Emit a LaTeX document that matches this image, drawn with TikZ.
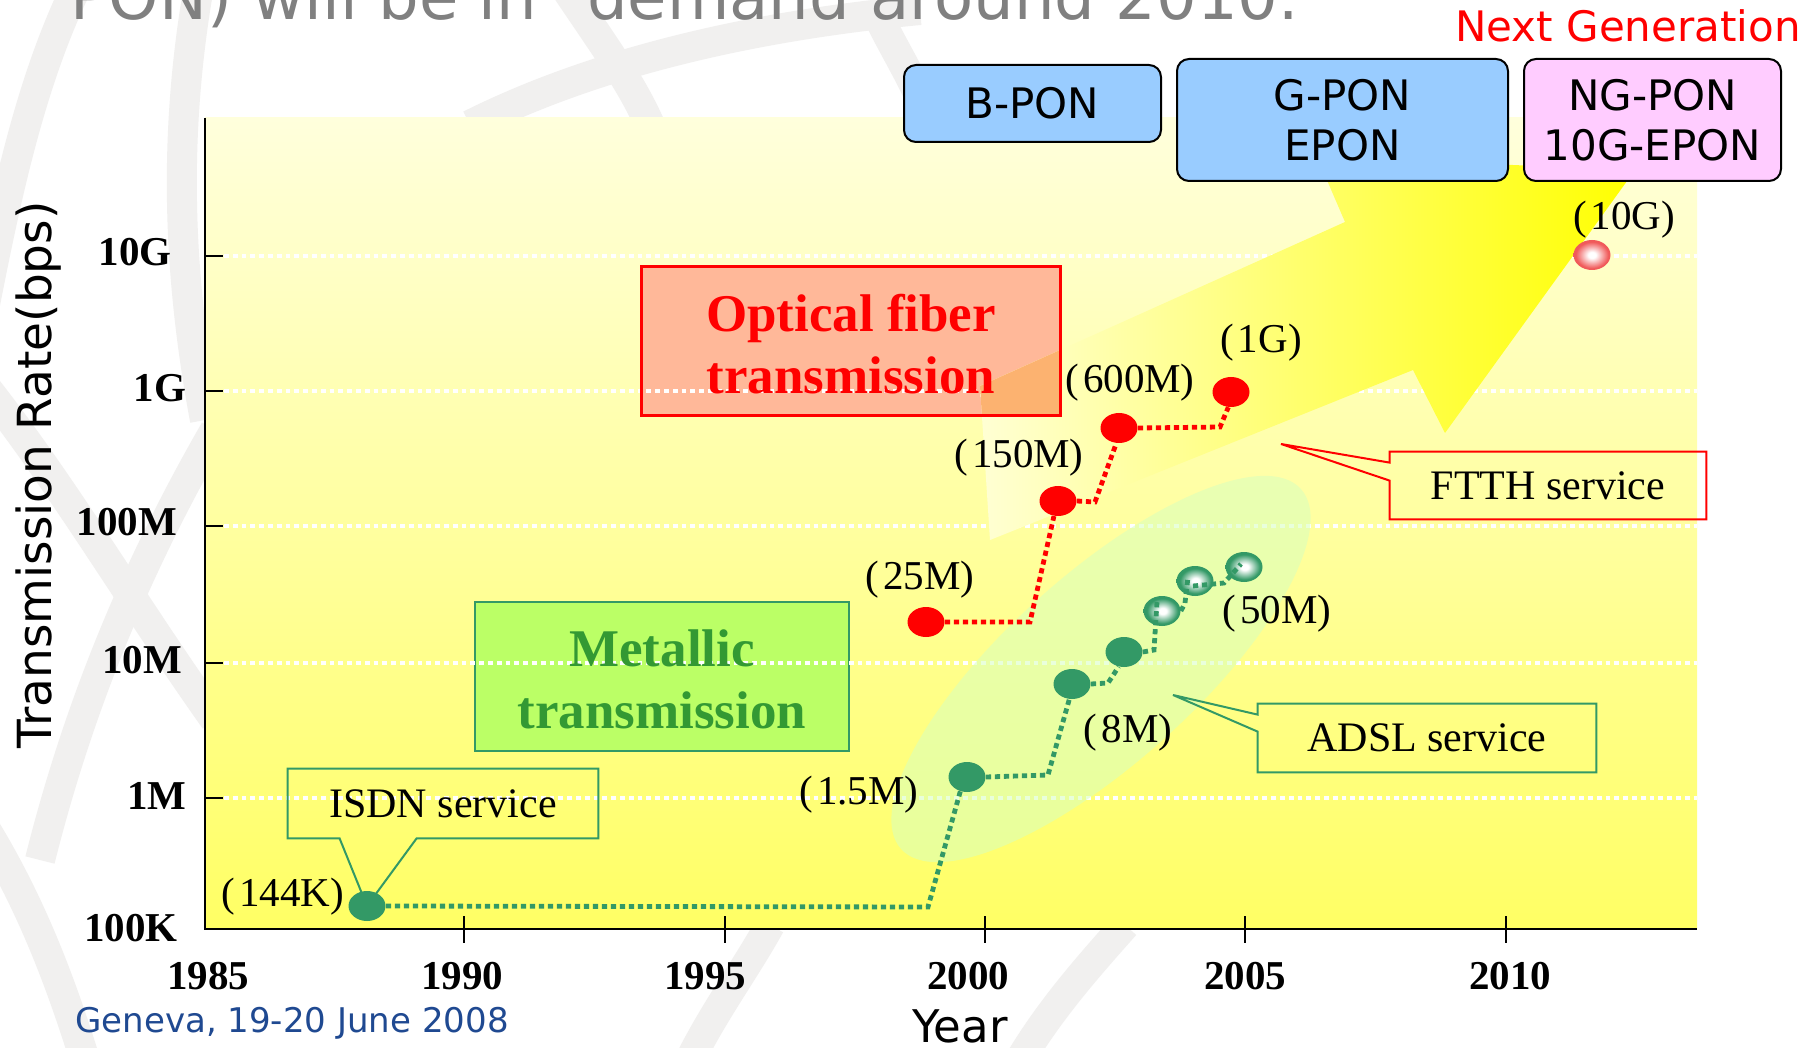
\documentclass[tikz,border=0pt]{standalone}
\usepackage{fontspec}
\setmainfont{Liberation Serif}
\newfontfamily\dejavu{DejaVu Sans}
\usetikzlibrary{shapes.geometric,calc}
\pgfdeclarelayer{bg}
\pgfdeclarelayer{conn}
\pgfsetlayers{bg,conn,main}

\definecolor{dotgreen}{RGB}{51,153,102}
\definecolor{boxblue}{RGB}{153,204,255}
\definecolor{boxpink}{RGB}{255,204,255}
\definecolor{fibfill}{RGB}{255,184,153}
\definecolor{metfill}{RGB}{187,255,102}
\definecolor{mettext}{RGB}{51,153,51}
\definecolor{plottop}{RGB}{255,255,220}
\definecolor{plotbot}{RGB}{255,255,100}
\definecolor{tailcol}{RGB}{255,255,212}
\definecolor{headcol}{RGB}{255,255,0}
\definecolor{overlapcol}{RGB}{252,178,112}
\definecolor{ellfill}{RGB}{215,255,190}
\definecolor{wmark}{RGB}{241,240,239}
\definecolor{genevablue}{RGB}{31,73,145}
\definecolor{titlegray}{RGB}{128,128,128}
\definecolor{tengcol}{RGB}{240,90,90}

\pgfdeclareradialshading{greenglow}{\pgfpoint{1bp}{0bp}}{color(0bp)=(white); color(5bp)=(white); color(21bp)=(dotgreen); color(50bp)=(dotgreen)}
\pgfdeclareradialshading{pinkglow}{\pgfpoint{0bp}{0bp}}{color(0bp)=(white); color(5bp)=(white); color(22bp)=(tengcol); color(50bp)=(tengcol)}

\newcommand\setfs[1]{\fontsize{#1}{#1}\selectfont}

\tikzset{
  lbl/.style={font=\setfs{20.5}, inner sep=0pt},
  ticklbl/.style={font=\bfseries\setfs{20.5}, inner sep=0pt},
  ponbox/.style={draw=black, line width=1pt, rounded corners=6pt, inner sep=0pt,
    font=\dejavu\fontsize{21}{25}\selectfont, align=center},
  calltext/.style={font=\setfs{21}, inner sep=0pt},
  dotshape/.style={ellipse, inner sep=0pt, minimum width=18.5pt, minimum height=15pt},
  soliddot/.style={dotshape, fill=#1},
  hollowdot/.style={dotshape, shade, shading=#1},
  dotline/.style={draw=#1, line width=2.4pt, dash pattern=on 2.6pt off 1.9pt},
  gridline/.style={draw=white, line width=1.7pt, dash pattern=on 2.4pt off 2pt},
  axisline/.style={draw=black, line width=1pt},
  wm/.style={draw=wmark, line width=15pt},
  arrowshape/.style={insert path={(980,386) -- (1345,222) -- (1317,157) -- (1635,170)
      -- (1445,433) -- (1413,370) -- (990,540) -- cycle}},
}

\begin{document}
\begin{tikzpicture}[x=0.5pt, y=-0.5pt]
\useasboundingbox (0,0) rectangle (1812,1048);

% data points drawn on top of the step lines
\node[soliddot=dotgreen] (d144) at (367,906) {};
\node[soliddot=dotgreen] (d15) at (967,777) {};
\node[soliddot=dotgreen] (d8) at (1072,684) {};
\node[soliddot=dotgreen] (g4) at (1124,652) {};
\node[soliddot=red] (r25) at (926,622) {};
\node[soliddot=red] (r150) at (1058,501) {};
\node[soliddot=red] (r600) at (1119,428) {};
\node[soliddot=red] (r1g) at (1231,392) {};

% service callout texts
\node[calltext, minimum width=155pt, minimum height=34.5pt] (isdn) at (443,803.5) {ISDN service};
\node[calltext, minimum width=158pt, minimum height=33.5pt] (ftth) at (1548,485.5) {FTTH service};
\node[calltext, minimum width=169pt, minimum height=34pt] (adsl) at (1427,738) {ADSL service};
\coordinate (ftthtip) at (1281,444);
\coordinate (adsltip) at (1173,695);

\begin{pgfonlayer}{bg}
  \fill[white] (0,0) rectangle (1812,1048);
  % faint globe watermark
  \draw[wm] (80,-20) .. controls (30,80) and (5,200) .. (-20,330);
  \draw[wm] (200,-20) .. controls (175,120) and (175,260) .. (205,420);
  \draw[wm] (-20,380) .. controls (60,480) and (130,600) .. (215,720);
  \draw[wm] (215,430) .. controls (140,560) and (80,700) .. (40,860);
  \draw[wm] (-20,820) .. controls (30,900) and (60,980) .. (85,1060);
  \draw[wm] (770,925) .. controls (745,970) and (715,1010) .. (690,1060);
  \draw[wm] (1125,925) .. controls (1085,970) and (1050,1010) .. (1020,1060);
  \draw[wm] (470,125) .. controls (600,60) and (760,25) .. (920,10);
  \draw[wm] (560,-20) .. controls (600,40) and (630,80) .. (650,125);
  \draw[wm] (880,20) .. controls (900,60) and (920,90) .. (930,125);

  % plot area
  \shade[top color=plottop, bottom color=plotbot] (205,118) rectangle (1697,929);

  \node[fill=fibfill, minimum width=209pt, minimum height=74pt, inner sep=0pt] (fiber) at (851,341) {};
  \node[fill=metfill, draw=dotgreen, line width=1.2pt, minimum width=187pt, minimum height=74.5pt, inner sep=0pt] (metal) at (662,676.5) {};

  \foreach \y in {256,391,526,663,798}
    \draw[gridline] (224,\y) -- (1697,\y);

  % growth arrow
  \shade[left color=tailcol, right color=headcol, arrowshape];
  \begin{scope}
    \clip (fiber.south west) rectangle (fiber.north east);
    \fill[overlapcol, arrowshape];
  \end{scope}
  \draw[red, line width=1.4pt] (fiber.south west) rectangle (fiber.north east);

  % ADSL region
  \fill[ellfill, opacity=0.55, rotate around={42:(1101,669)}] (1101,669) ellipse [x radius=269, y radius=94];

  % axes
  \draw[axisline] (205,118) -- (205,929) -- (1697,929);
  \foreach \y in {256,391,526,663,798}
    \draw[axisline] (205,\y) -- (223,\y);
  \foreach \x in {464,725,985,1245,1506}
    \draw[black, line width=0.8pt] (\x,916) -- (\x,943);

  % callout outlines
  \draw[dotgreen, line width=1pt] (isdn.north west) -- (isdn.north east) -- (isdn.south east)
    -- ($(isdn.south west)+(129,0)$) -- (d144.center) -- ($(isdn.south west)+(52,0)$)
    -- (isdn.south west) -- cycle;
  \draw[red, line width=1pt] (ftth.north west) -- (ftth.north east) -- (ftth.south east)
    -- (ftth.south west) -- ($(ftth.north west)+(0,29)$) -- (ftthtip)
    -- ($(ftth.north west)+(0,11)$) -- cycle;
  \draw[dotgreen, line width=1pt] (adsl.north west) -- (adsl.north east) -- (adsl.south east)
    -- (adsl.south west) -- ($(adsl.north west)+(0,28)$) -- (adsltip)
    -- ($(adsl.north west)+(0,11)$) -- cycle;

  % future rates, shown as glowing dots
  \node[hollowdot=greenglow] (g5) at (1162,611) {};
  \node[hollowdot=greenglow] (g6) at (1195,581) {};
  \node[hollowdot=greenglow] (g7) at (1244,567) {};
  \node[hollowdot=pinkglow] (r10g) at (1592,255) {};
\end{pgfonlayer}

\begin{pgfonlayer}{conn}
  \draw[dotline=red] (r25.east) -- (1030,622) -- (r150.-105);
  \draw[dotline=red] (r150.east) -- (1095,502) -- (r600.-100);
  \draw[dotline=red] (r600.east) -- (1220,427) -- (r1g.-100);
  \draw[dotline=dotgreen] (d144.east) -- (928,907) -- (d15.-115);
  \draw[dotline=dotgreen] (d15.east) -- (1048,775) -- (d8.-100);
  \draw[dotline=dotgreen] (d8.east) -- (1108,683) -- (g4.-110);
  \draw[dotline=dotgreen] (g4.east) -- (1154,650) -- (1157,602);
  \draw[dotline=dotgreen] (g5.east) -- (1185,603) -- (1188,577);
  \draw[dotline=dotgreen] ($(g6.center)+(-2,5)$) -- (1224,583) -- ($(g7.center)+(-3,-3)$);
\end{pgfonlayer}

% PON generations
\node[ponbox, fill=boxblue, minimum width=128.5pt, minimum height=38.5pt] (bpon) at (1032.5,103.5) {B-PON};
\node[ponbox, fill=boxblue, minimum width=165.5pt, minimum height=61pt] (gpon) at (1342.5,120) {G-PON\\EPON};
\node[ponbox, fill=boxpink, minimum width=128.5pt, minimum height=61pt] (ngpon) at (1652.5,120) {NG-PON\\10G-EPON};

% box titles
\node[text=red, font=\bfseries\fontsize{26.5}{31}\selectfont, align=center, inner sep=0pt] (fibertext) at (851,344) {Optical fiber\\transmission};
\node[text=mettext, font=\bfseries\fontsize{26.5}{31}\selectfont, align=center, inner sep=0pt] (metaltext) at (662,679) {Metallic\\transmission};

% rate labels
\node[lbl] (l144) at (283,897) {(\kern2pt144K)};
\node[lbl] (l15) at (859,795) {(\kern2pt1.5M)};
\node[lbl] (l8) at (1128,733) {(\kern2pt8M)};
\node[lbl] (l50) at (1277,614) {(\kern2pt50M)};
\node[lbl] (l25) at (920,580) {(\kern2pt25M)};
\node[lbl] (l150) at (1019,458) {(\kern2pt150M)};
\node[lbl] (l600) at (1130,383) {(\kern2pt600M)};
\node[lbl] (l1g) at (1261,343) {(\kern2pt1G)};
\node[lbl] (l10g) at (1624,220) {(\kern2pt10G)};

% axis labels
\foreach \t/\x/\y in {10G/135/252, 1G/160/388, 100M/127/522, 10M/142/660, 1M/157/796, 100K/131/928}
  \node[ticklbl] (yl\t) at (\x,\y) {\t};
\foreach \t/\x in {1985/208, 1990/462, 1995/705, 2000/968, 2005/1245, 2010/1510}
  \node[ticklbl] (xl\t) at (\x,976) {\t};

\node[rotate=90, anchor=base, inner sep=0pt, font=\dejavu\setfs{23.5}] (ytitle) at (52,475) {Transmission Rate(bps)};
\node[anchor=base west, inner sep=0pt, font=\dejavu\setfs{22.5}] (xtitle) at (912,1042) {Year};

% slide texts
\node[anchor=base west, inner sep=0pt, font=\dejavu\setfs{32}, text=titlegray] (headline) at (70,20) {PON) will be in "demand around 2010.};
\node[anchor=base west, inner sep=0pt, font=\dejavu\setfs{21}, text=red] (nextgen) at (1455,42) {Next Generation};
\node[anchor=base west, inner sep=0pt, font=\dejavu\setfs{17}, text=genevablue] (venue) at (75,1032) {Geneva, 19-20 June 2008};
\end{tikzpicture}
\end{document}
